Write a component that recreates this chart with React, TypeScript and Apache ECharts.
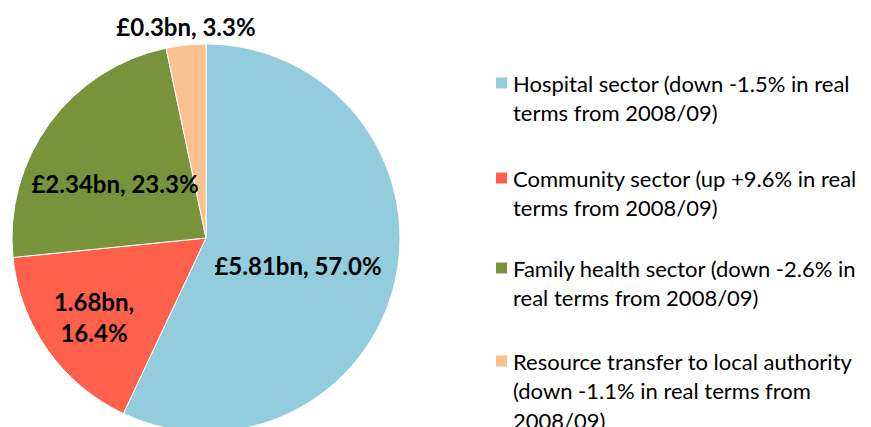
import React, { useEffect, useRef } from "react";
import * as echarts from "echarts";

const categories = [
  "Hospital sector (down -1.5% in real terms from 2008/09)",
  "Community sector (up +9.6% in real terms from 2008/09)",
  "Family health sector (down -2.6% in real terms from 2008/09)",
  "Resource transfer to local authority (down -1.1% in real terms from 2008/09)",
];
const legendLines = [
  ["Hospital sector (down -1.5% in real", "terms from 2008/09)"],
  ["Community sector (up +9.6% in real", "terms from 2008/09)"],
  ["Family health sector (down -2.6% in", "real terms from 2008/09)"],
  ["Resource transfer to local authority", "(down -1.1% in real terms from", "2008/09)"],
];
const sharePct = [57.0, 16.4, 23.3, 3.3];
const sliceLabels = ["£5.81bn, 57.0%", "1.68bn,\n16.4%", "£2.34bn, 23.3%", "£0.3bn, 3.3%"];
const colors = ["#93CDDD", "#FF604C", "#77933C", "#FAC090"];

const labelPos = [
  [298, 265],
  [94, 317],
  [115, 183],
  [186, 26],
];
const legendIconY = [83, 178, 268, 361];
const LH = 29.5;

export default function App() {
  const ref = useRef<HTMLDivElement>(null);
  useEffect(() => {
    if (!ref.current) return;
    const chart = echarts.init(ref.current, undefined, { renderer: "svg" });
    const legends = categories.map((name, i) => {
      const n = legendLines[i].length;
      const pre = "\n".repeat(n - 1);
      return {
        data: [name],
        orient: "vertical" as const,
        left: 494,
        top: legendIconY[i] - ((2 * n - 1) * LH) / 2,
        padding: 0,
        itemWidth: 13,
        itemHeight: 13,
        itemGap: 0,
        icon: "rect",
        selectedMode: false,
        formatter: () => pre + legendLines[i].join("\n"),
        textStyle: {
          fontFamily: "Lato",
          fontSize: 22,
          color: "#000",
          lineHeight: LH,
        },
      };
    });
    chart.setOption({
      animation: false,
      backgroundColor: "#fff",
      color: colors,
      legend: legends,
      series: [
        {
          type: "pie",
          center: [206, 238],
          radius: 194,
          startAngle: 90,
          clockwise: true,
          avoidLabelOverlap: false,
          itemStyle: { borderColor: "#fff", borderWidth: 1 },
          label: {
            show: true,
            position: "inside",
            formatter: (p: any) => sliceLabels[p.dataIndex],
            fontFamily: "Lato",
            fontWeight: "bold",
            fontSize: 24,
            lineHeight: 31,
            color: "#000",
          },
          labelLine: { show: false },
          labelLayout: (p: any) => ({
            x: labelPos[p.dataIndex][0],
            y: labelPos[p.dataIndex][1],
            align: "center",
            verticalAlign: "middle",
          }),
          emphasis: { disabled: true },
          data: categories.map((name, i) => ({ name, value: sharePct[i] })),
        },
      ],
    });
    return () => chart.dispose();
  }, []);
  return (
    <div
      ref={ref}
      style={{ position: "fixed", left: 0, top: 0, width: 871, height: 427 }}
    />
  );
}
